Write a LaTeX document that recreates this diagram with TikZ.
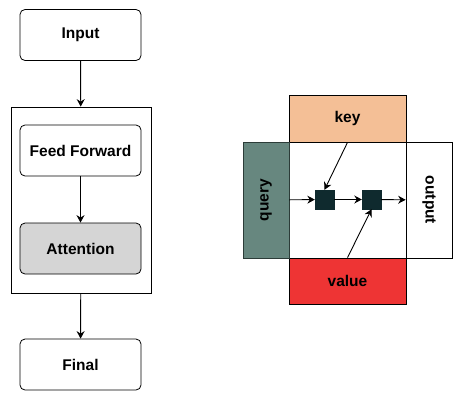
\documentclass[tikz,border=0pt]{standalone}
\usepackage{fontspec}
\setmainfont{Liberation Sans}
\usepackage{tikz}
\usetikzlibrary{arrows.meta,positioning}

\definecolor{keyfill}{HTML}{F4BF96}
\definecolor{valuefill}{HTML}{EE3434}
\definecolor{queryfill}{HTML}{67877F}
\definecolor{queryline}{HTML}{2C3C38}
\definecolor{gatefill}{HTML}{0F2A2E}
\definecolor{attnfill}{HTML}{D5D5D5}

\begin{document}
\begin{tikzpicture}[x=1pt, y=-1pt,
		font=\fontsize{15.5}{18}\selectfont\bfseries,
		layer/.style={draw, rounded corners=5pt, minimum width=121pt, minimum height=51pt, inner sep=0pt},
		pane/.style={draw, minimum width=117pt, minimum height=47pt, inner sep=0pt},
		side/.style={draw, minimum width=46pt, minimum height=116pt, inner sep=0pt},
		gate/.style={draw=gatefill, fill=gatefill, minimum size=19pt, inner sep=0pt},
		arr/.style={-{Stealth[length=7.5pt, width=8pt, inset=2.5pt]}, line width=0.9pt}]
		\useasboundingbox (0,0) rectangle (463,400);

		% left column
		\node[draw, line width=0.8pt, minimum width=140pt, minimum height=186pt] (block) at (81,200) {};
		\node[layer, line width=0.8pt] (input) at (80.5,35) {Input};
		\node[layer, line width=0.8pt] (ff) at (80.5,150.5) {Feed Forward};
		\node[layer, line width=0.8pt, fill=attnfill] (attn) at (80.5,248.5) {Attention};
		\node[layer, line width=0.8pt] (final) at (80.5,364.5) {Final};

		\draw[arr] (input) -- (block);
		\draw[arr] (ff) -- (attn);
		\draw[arr] (block) -- (final);

		% right block
		\node[draw, line width=0.8pt, minimum width=117pt, minimum height=116pt, inner sep=0pt] (core) at (347.5,200) {};
		\node[pane, line width=0.8pt, fill=keyfill] (key) at (347.5,118.5) {key};
		\node[pane, line width=0.8pt, fill=valuefill, minimum height=46pt] (value) at (347.5,281) {value};
		\node[side, line width=0.8pt, draw=queryline, fill=queryfill] (query) at (266,200) {\rotatebox{90}{query}};
		\node[side, line width=0.8pt] (output) at (429,200) {\rotatebox{-90}{output}};

		\node[gate] (g1) at (324.5,199.5) {};
		\node[gate] (g2) at (371.5,199.5) {};

		\draw[arr] (query) -- (g1);
		\draw[arr] (g1) -- (g2);
		\draw[arr] (g2) -- (output);
		\draw[arr] (key.south) -- (g1.north);
		\draw[arr] (value.north) -- (g2.south);
\end{tikzpicture}
\end{document}
